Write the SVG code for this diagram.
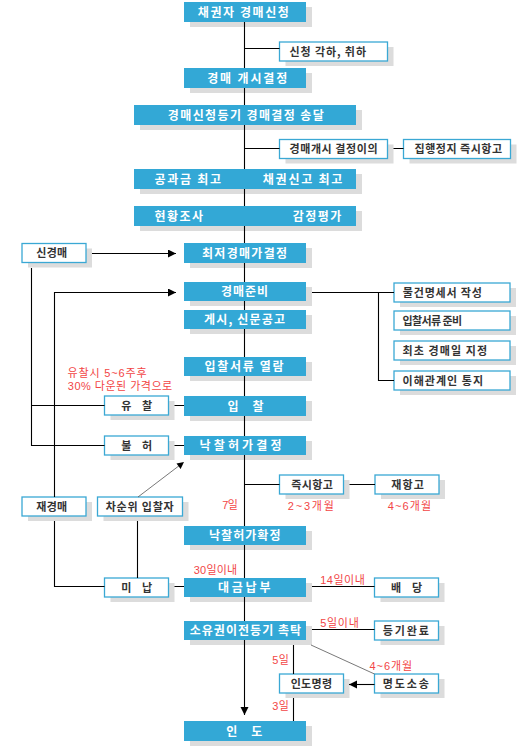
<svg xmlns="http://www.w3.org/2000/svg" width="517" height="746" viewBox="0 0 517 746">
<style>
.s{fill:#dcdcdc}
.b{fill:#33a8d6}
.o{fill:#fff;stroke:#3aa8d4;stroke-width:1.3}
.tw{font-family:"Noto Sans CJK KR",sans-serif;font-size:12px;font-weight:bold;fill:#fff;text-anchor:middle}
.tk{font-family:"Noto Sans CJK KR",sans-serif;font-size:11px;font-weight:bold;fill:#333}
.c{text-anchor:middle}
.tr{font-family:"Liberation Sans","Noto Sans CJK KR",sans-serif;font-size:11px;fill:#f24545}
.ln{stroke:#000;stroke-width:1.1;fill:none}
.gl{stroke:#555;stroke-width:0.8;fill:none}
</style>
<defs>
<marker id="ah" markerUnits="userSpaceOnUse" markerWidth="10" markerHeight="10" refX="8" refY="4" orient="auto">
<path d="M0,0 L8,4 L0,8 Z" fill="#000"/>
</marker>
</defs>
<rect width="517" height="746" fill="#fff"/>

<g id="n1"><rect class="s" x="190" y="7" width="122" height="20"/><rect class="b" x="184" y="2" width="122" height="20"/><text class="tw" x="243.3" y="16.5" textLength="91">채권자 경매신청</text></g>
<g id="n2"><rect class="s" x="190" y="73" width="122" height="20"/><rect class="b" x="184" y="68" width="122" height="20"/><text class="tw" x="247.2" y="82.5" textLength="80">경매 개시결정</text></g>
<g id="n3"><rect class="s" x="140" y="110" width="222" height="20"/><rect class="b" x="134" y="105" width="222" height="20"/><text class="tw" x="245.8" y="119.5" textLength="156">경매신청등기 경매결정 송달</text></g>
<g id="n4"><rect class="s" x="140" y="174" width="222" height="20"/><rect class="b" x="134" y="169" width="222" height="20"/><text class="tw" x="154.5" y="183.5" style="text-anchor:start" textLength="66.5">공과금 최고</text><text class="tw" x="262.8" y="183.5" style="text-anchor:start" textLength="79.5">채권신고 최고</text></g>
<g id="n5"><rect class="s" x="140" y="211" width="222" height="20"/><rect class="b" x="134" y="206" width="222" height="20"/><text class="tw" x="154.5" y="220.5" style="text-anchor:start" textLength="48.5">현황조사</text><text class="tw" x="292.8" y="220.5" style="text-anchor:start" textLength="48.5">감정평가</text></g>
<g id="n6"><rect class="s" x="190" y="248" width="122" height="20"/><rect class="b" x="184" y="243" width="122" height="20"/><text class="tw" x="244.5" y="257.5" textLength="85">최저경매가결정</text></g>
<g id="n7"><rect class="s" x="190" y="287" width="122" height="19"/><rect class="b" x="184" y="282" width="122" height="19"/><text class="tw" x="244.5" y="296" textLength="47">경매준비</text></g>
<g id="n8"><rect class="s" x="190" y="315" width="122" height="19"/><rect class="b" x="184" y="310" width="122" height="19"/><text class="tw" x="244.5" y="324" textLength="81">게시, 신문공고</text></g>
<g id="n9"><rect class="s" x="190" y="362" width="122" height="19"/><rect class="b" x="184" y="357" width="122" height="19"/><text class="tw" x="244" y="371" textLength="79">입찰서류 열람</text></g>
<g id="n10"><rect class="s" x="190" y="401" width="122" height="20"/><rect class="b" x="184" y="396" width="122" height="20"/><text class="tw" x="245.5" y="410.5" textLength="36">입 찰</text></g>
<g id="n11"><rect class="s" x="190" y="441" width="122" height="19"/><rect class="b" x="184" y="436" width="122" height="19"/><text class="tw" x="240.5" y="450" textLength="82">낙찰허가결정</text></g>
<g id="n12"><rect class="s" x="190" y="531" width="122" height="19"/><rect class="b" x="184" y="526" width="122" height="19"/><text class="tw" x="244.7" y="540" textLength="71.5">낙찰허가확정</text></g>
<g id="n13"><rect class="s" x="190" y="583" width="122" height="19"/><rect class="b" x="184" y="578" width="122" height="19"/><text class="tw" x="244.2" y="592" textLength="52.5">대금납부</text></g>
<g id="n14"><rect class="s" x="190" y="626" width="122" height="19"/><rect class="b" x="184" y="621" width="122" height="19"/><text class="tw" x="245.4" y="635" textLength="111.5">소유권이전등기 촉탁</text></g>
<g id="n15"><rect class="s" x="190" y="726" width="122" height="20"/><rect class="b" x="184" y="721" width="122" height="20"/><text class="tw" x="244.2" y="735.5" textLength="36">인 도</text></g>

<g id="o1"><rect class="s" x="285.5" y="47" width="108" height="19"/><rect class="o" x="279.5" y="42" width="108" height="19"/><text class="tk" x="289.5" y="55.5" textLength="76.5">신청 각하, 취하</text></g>
<g id="o2"><rect class="s" x="285.5" y="144.5" width="108" height="19"/><rect class="o" x="279.5" y="139.5" width="108" height="19"/><text class="tk" x="289.5" y="153" textLength="88">경매개시 결정이의</text></g>
<g id="o3"><rect class="s" x="409.5" y="144.5" width="107" height="19"/><rect class="o" x="403.5" y="139.5" width="107" height="19"/><text class="tk" x="414.5" y="153" textLength="87.5">집행정지 즉시항고</text></g>
<g id="o4"><rect class="s" x="28" y="248.5" width="64" height="19"/><rect class="o" x="22" y="243.5" width="64" height="19"/><text class="tk c" x="51.7" y="257" textLength="31">신경매</text></g>
<g id="o5"><rect class="s" x="400" y="288" width="116" height="19"/><rect class="o" x="394" y="283" width="116" height="19"/><text class="tk" x="402.8" y="296.5" textLength="79">물건명세서 작성</text></g>
<g id="o6"><rect class="s" x="400" y="316" width="116" height="19"/><rect class="o" x="394" y="311" width="116" height="19"/><text class="tk" x="402.5" y="324.5" textLength="59.5">입찰서류 준비</text></g>
<g id="o7"><rect class="s" x="400" y="346" width="116" height="19"/><rect class="o" x="394" y="341" width="116" height="19"/><text class="tk" x="402.5" y="354.5" textLength="84.5">최초 경매일 지정</text></g>
<g id="o8"><rect class="s" x="400" y="376" width="116" height="19"/><rect class="o" x="394" y="371" width="116" height="19"/><text class="tk" x="402.5" y="384.5" textLength="80.5">이해관계인 통지</text></g>
<g id="o9"><rect class="s" x="110.5" y="401" width="64" height="19"/><rect class="o" x="104.5" y="396" width="64" height="19"/><text class="tk c" x="136.7" y="409.5" textLength="31">유 찰</text></g>
<g id="o10"><rect class="s" x="110.5" y="441" width="64" height="19"/><rect class="o" x="104.5" y="436" width="64" height="19"/><text class="tk c" x="136.7" y="449.5" textLength="31">불 허</text></g>
<g id="o11"><rect class="s" x="28" y="502" width="64" height="19"/><rect class="o" x="22" y="497" width="64" height="19"/><text class="tk c" x="51.7" y="510.5" textLength="31">재경매</text></g>
<g id="o12"><rect class="s" x="103.5" y="502" width="85" height="19"/><rect class="o" x="97.5" y="497" width="85" height="19"/><text class="tk c" x="139.7" y="510.5" textLength="68">차순위 입찰자</text></g>
<g id="o13"><rect class="s" x="285.5" y="480" width="64" height="19"/><rect class="o" x="279.5" y="475" width="64" height="19"/><text class="tk c" x="312" y="488.5" textLength="41.5">즉시항고</text></g>
<g id="o14"><rect class="s" x="381" y="480" width="64" height="19"/><rect class="o" x="375" y="475" width="64" height="19"/><text class="tk c" x="407.5" y="488.5" textLength="32.5">재항고</text></g>
<g id="o15"><rect class="s" x="110.5" y="583" width="64" height="19"/><rect class="o" x="104.5" y="578" width="64" height="19"/><text class="tk c" x="136.7" y="591.5" textLength="31">미 납</text></g>
<g id="o16"><rect class="s" x="380.5" y="583" width="64" height="19"/><rect class="o" x="374.5" y="578" width="64" height="19"/><text class="tk c" x="406.5" y="591.5" textLength="31">배 당</text></g>
<g id="o17"><rect class="s" x="380.5" y="626" width="64" height="19"/><rect class="o" x="374.5" y="621" width="64" height="19"/><text class="tk c" x="405.8" y="634.5" textLength="46">등기완료</text></g>
<g id="o18"><rect class="s" x="285.5" y="679" width="64" height="19"/><rect class="o" x="279.5" y="674" width="64" height="19"/><text class="tk c" x="311.4" y="687.5" textLength="41.5">인도명령</text></g>
<g id="o19"><rect class="s" x="380.5" y="679" width="64" height="19"/><rect class="o" x="374.5" y="674" width="64" height="19"/><text class="tk c" x="405.8" y="687.5" textLength="46">명도소송</text></g>

<g id="labels">
<text class="tr" x="67.5" y="377" textLength="79">유찰시 5~6주후</text>
<text class="tr" x="67.8" y="389.5" textLength="104.4">30% 다운된 가격으로</text>
<text class="tr" x="222.3" y="509" textLength="15.5">7일</text>
<text class="tr" x="287.8" y="510" textLength="46">2~3개월</text>
<text class="tr" x="387.8" y="510" textLength="43.4">4~6개월</text>
<text class="tr" x="193.8" y="574" textLength="43.4">30일이내</text>
<text class="tr" x="320.2" y="584" textLength="44.6">14일이내</text>
<text class="tr" x="320.2" y="627" textLength="38.6">5일이내</text>
<text class="tr" x="272.2" y="663.5" textLength="16.6">5일</text>
<text class="tr" x="272.2" y="710" textLength="16.6">3일</text>
<text class="tr" x="369.5" y="670" textLength="42.7">4~6개월</text>
</g>

<g id="connectors">
<path class="ln" d="M244.5,22V68M244.5,88V105M244.5,125V169M244.5,189V206M244.5,226V243M244.5,263V282M244.5,301V310M244.5,329V357M244.5,376V396M244.5,416V436M244.5,455V526M244.5,545V578M244.5,597V621"/>
<path class="ln" d="M244.5,640V715" marker-end="url(#ah)"/>
<path class="ln" d="M244.5,48.5H279.5M244.5,148.5H279.5M393.5,148.5H403.5"/>
<path class="ln" d="M92,253.5H176" marker-end="url(#ah)"/>
<path class="ln" d="M54.5,497V292.5H176" marker-end="url(#ah)"/>
<path class="ln" d="M31.5,268V445.5H104.5M31.5,405.5H104.5M174.5,405.5H184M174.5,445.5H184"/>
<path class="ln" d="M312,292.5H394M378.5,292.5V380.5H394"/>
<path class="ln" d="M54.5,521V586.5H104.5M137.5,521V578M174.5,586.5H184M312,586.5H374.5"/>
<path class="ln" d="M244.5,484.5H279.5M349.5,484.5H375"/>
<path class="ln" d="M312,629.5H374.5"/>
<path class="ln" d="M293.5,645V674M293.5,698V721"/>
<path class="ln" d="M374.5,684.5H349" marker-end="url(#ah)"/>
<path class="gl" d="M138,497L182,463.5"/>
<path d="M184,462 L176.5,463.6 L180.6,469 Z" fill="#000"/>
<path class="gl" d="M311,645L374.5,674"/>
</g>
</svg>
